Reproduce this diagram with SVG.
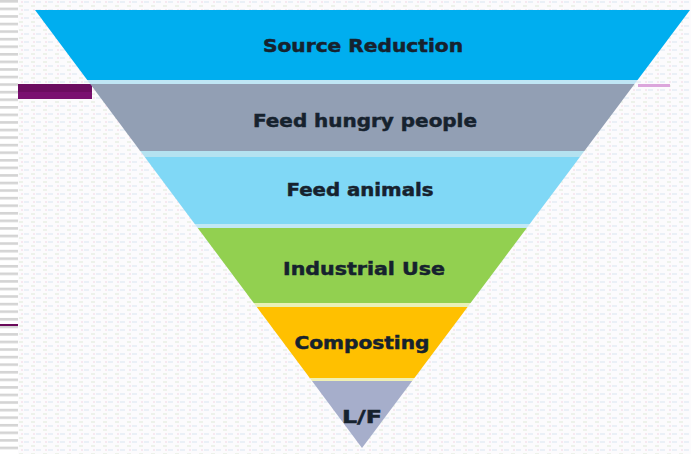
<svg xmlns="http://www.w3.org/2000/svg" width="691" height="454" viewBox="0 0 691 454">
  <style>
    .lbl { font-family: "DejaVu Sans", Verdana, sans-serif; font-weight: bold; font-size: 18px; fill: #16222e; stroke: #16222e; stroke-width: 0.5; text-anchor: middle; }
  </style>
  <defs>
    <pattern id="bg" width="12" height="8" patternUnits="userSpaceOnUse">
      <rect width="12" height="8" fill="#fcfbfd"/>
      <rect x="0" y="1" width="5" height="2" fill="#eaf0f7"/>
      <rect x="7" y="5" width="4" height="2" fill="#edf2ea"/>
      <rect x="9" y="1" width="2" height="2" fill="#f7e8f0"/>
    </pattern>
    <pattern id="stripes" width="18" height="7.57" patternUnits="userSpaceOnUse">
      <rect width="18" height="7.57" fill="#ffffff"/>
      <rect y="0" width="18" height="2.6" fill="#d4d4d4"/>
    </pattern>
    <clipPath id="tri">
      <polygon points="35,10 690,10 362,448"/>
    </clipPath>
  </defs>

  <rect width="691" height="454" fill="url(#bg)"/>
  <rect x="0" y="0" width="18" height="454" fill="url(#stripes)"/>
  <rect x="18" y="84" width="74" height="15" fill="#6c0c60"/>
  <rect x="18" y="92" width="74" height="7" fill="#7a1070"/>
  <rect x="0" y="324" width="18" height="2" fill="#6a0a5a"/>
  <rect x="638" y="84" width="32" height="3" fill="#dca6dc"/>

  <g id="pyramid" clip-path="url(#tri)">
    <rect x="0" y="80" width="691" height="4" fill="#bfe6f5"/>
    <rect x="0" y="151" width="691" height="6" fill="#b4e2f0"/>
    <rect x="0" y="224" width="691" height="4" fill="#c2e8f5"/>
    <rect x="0" y="303" width="691" height="4" fill="#e8f0b8"/>
    <rect x="0" y="378" width="691" height="3" fill="#f0f0b4"/>
  </g>

  <g id="band-source-reduction" clip-path="url(#tri)">
    <rect x="0" y="10" width="691" height="70" fill="#00aeef"/>
    <text class="lbl" x="363" y="52" textLength="200" lengthAdjust="spacingAndGlyphs">Source Reduction</text>
  </g>
  <g id="band-feed-hungry-people" clip-path="url(#tri)">
    <rect x="0" y="84" width="691" height="67" fill="#929fb4"/>
    <text class="lbl" x="365" y="127" textLength="224" lengthAdjust="spacingAndGlyphs">Feed hungry people</text>
  </g>
  <g id="band-feed-animals" clip-path="url(#tri)">
    <rect x="0" y="157" width="691" height="67" fill="#80d8f6"/>
    <text class="lbl" x="360" y="196" textLength="147" lengthAdjust="spacingAndGlyphs">Feed animals</text>
  </g>
  <g id="band-industrial-use" clip-path="url(#tri)">
    <rect x="0" y="228" width="691" height="75" fill="#92d050"/>
    <text class="lbl" x="364" y="275" textLength="162" lengthAdjust="spacingAndGlyphs">Industrial Use</text>
  </g>
  <g id="band-composting" clip-path="url(#tri)">
    <rect x="0" y="307" width="691" height="71" fill="#ffc000"/>
    <text class="lbl" x="362" y="349" textLength="135" lengthAdjust="spacingAndGlyphs">Composting</text>
  </g>
  <g id="band-lf" clip-path="url(#tri)">
    <rect x="0" y="381" width="691" height="70" fill="#a6aecb"/>
    <text class="lbl" x="362" y="423" textLength="40" lengthAdjust="spacingAndGlyphs">L/F</text>
  </g>
  <g id="connectors"/>
</svg>
